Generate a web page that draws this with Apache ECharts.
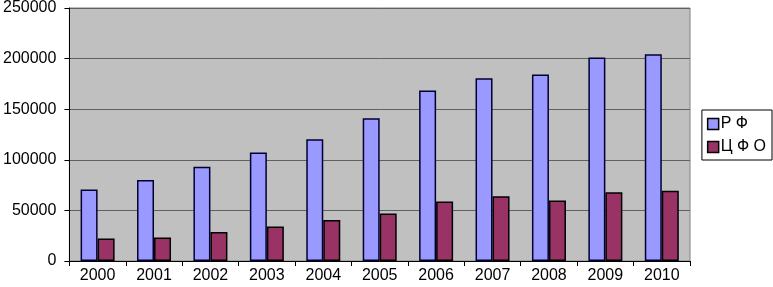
<!DOCTYPE html>
<html>
<head>
<meta charset="utf-8">
<script src="https://cdn.jsdelivr.net/npm/echarts@6/dist/echarts.min.js"></script>
<style>
  html, body { margin: 0; padding: 0; background: #fff; }
  #chart { width: 773px; height: 287px; }
</style>
</head>
<body>
<div id="chart"></div>
<script>
const years = ['2000', '2001', '2002', '2003', '2004', '2005', '2006', '2007', '2008', '2009', '2010'];
const rfValues = [70600, 80100, 93100, 107200, 120400, 141000, 168500, 180500, 184300, 201000, 204200];
const cfoValues = [22200, 23200, 28700, 34000, 40500, 47000, 58800, 64000, 59800, 68000, 69300];
const yTicks = { min: 0, max: 250000, interval: 50000 };

let chart = echarts.init(document.getElementById('chart'));
chart.setOption({
    animation: false,
    textStyle: { fontFamily: 'Liberation Sans' },
    grid: {
        left: 68, right: 83, top: 6, bottom: 26,
        show: true, backgroundColor: '#c0c0c0', borderColor: '#808080', borderWidth: 1
    },
    legend: {
        orient: 'vertical',
        right: 1, top: 110,
        itemWidth: 11, itemHeight: 11, itemGap: 7,
        padding: [6, 6, 5, 5],
        borderColor: '#000', borderWidth: 1,
        backgroundColor: '#fff',
        textStyle: { fontSize: 16, color: '#000', padding: [0, 0, 0, -3] },
        icon: 'rect',
        data: [
            { name: 'Р Ф', itemStyle: { borderColor: '#000', borderWidth: 1.5 } },
            { name: 'Ц Ф О', itemStyle: { borderColor: '#000', borderWidth: 1.5 } }
        ]
    },
    xAxis: {
        type: 'category',
        data: years,
        axisLine: { lineStyle: { color: '#000' } },
        axisTick: { show: true, length: 5, lineStyle: { color: '#000' } },
        axisLabel: { fontSize: 16, color: '#000', margin: 7 }
    },
    yAxis: {
        type: 'value',
        min: yTicks.min, max: yTicks.max, interval: yTicks.interval,
        axisLine: { show: true, lineStyle: { color: '#000' } },
        axisTick: { show: true, length: 5, lineStyle: { color: '#000' } },
        axisLabel: { fontSize: 16, color: '#000', margin: 13, formatter: (v) => String(v) },
        splitLine: { lineStyle: { color: '#606060', width: 1 } }
    },
    series: [
        {
            name: 'Р Ф', type: 'bar', data: rfValues,
            barWidth: 17, barGap: '0%',
            itemStyle: { color: '#9999ff', borderColor: '#000033', borderWidth: 1.5 }
        },
        {
            name: 'Ц Ф О', type: 'bar', data: cfoValues,
            barWidth: 17,
            itemStyle: { color: '#993366', borderColor: '#000', borderWidth: 1.5 }
        }
    ]
});
</script>
</body>
</html>
